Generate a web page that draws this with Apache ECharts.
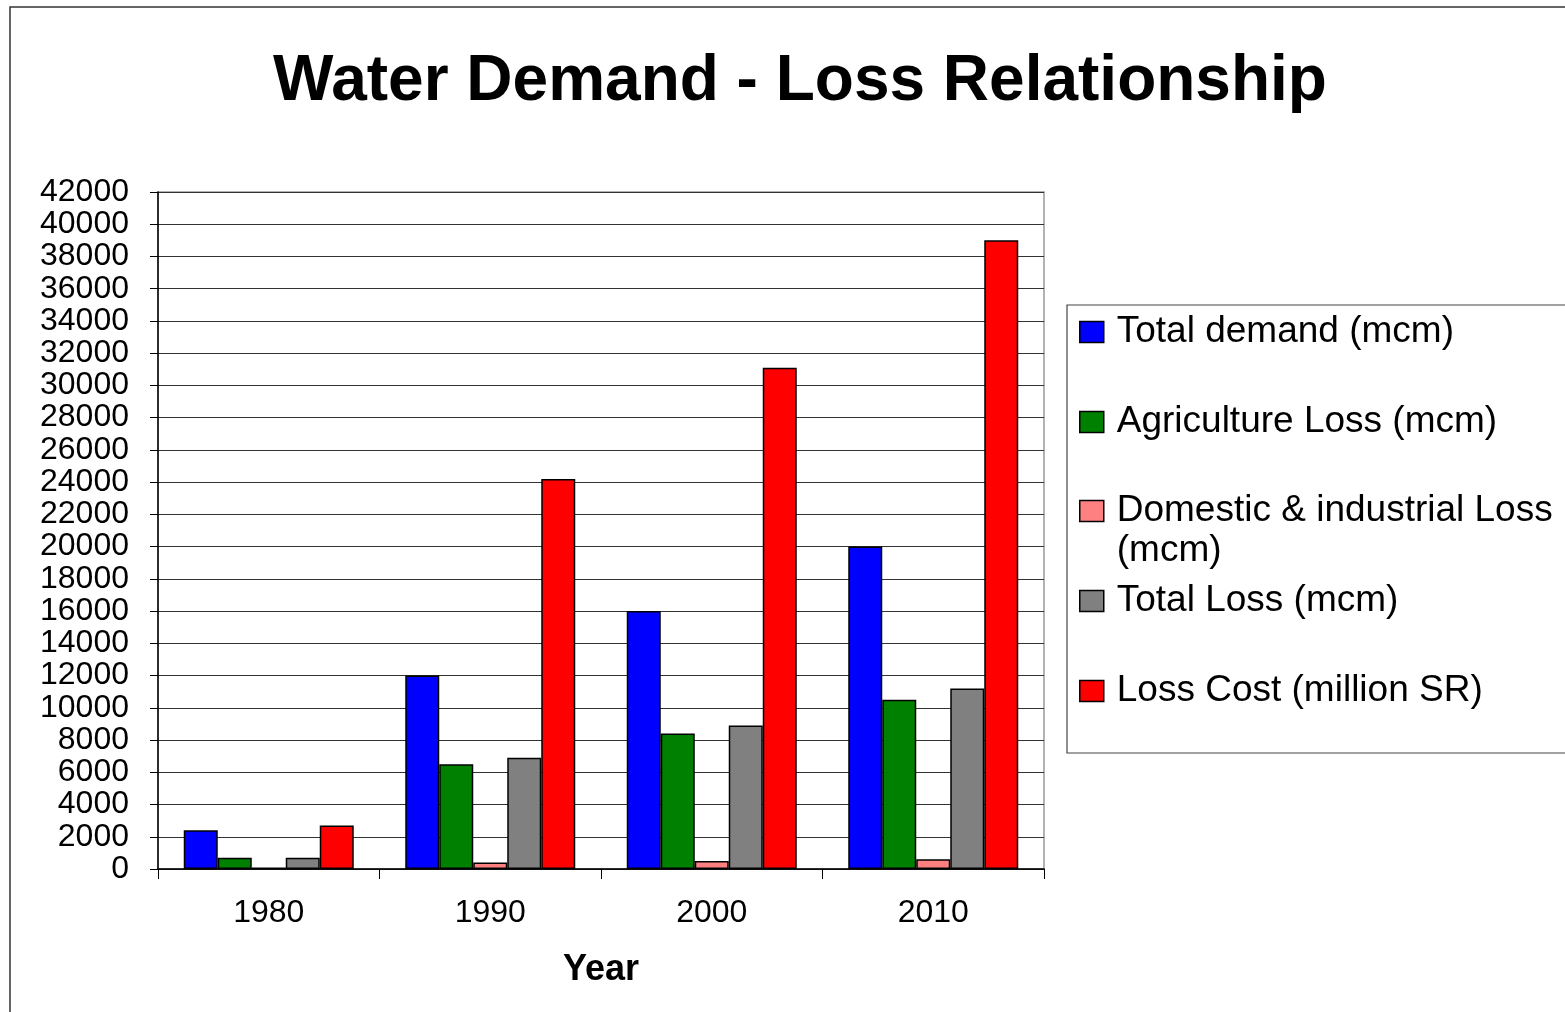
<!DOCTYPE html>
<html>
<head>
<meta charset="utf-8">
<script src="https://cdn.jsdelivr.net/npm/echarts@6/dist/echarts.min.js"></script>
<style>
  html, body { margin: 0; padding: 0; background: #fff; }
  #chart { width: 1565px; height: 1012px; }
</style>
</head>
<body>
<div id="chart"></div>
<script>
// data
var years = ['1980', '1990', '2000', '2010']
var totalDemand = [2400, 12000, 16000, 20000]
var agricultureLoss = [700, 6500, 8400, 10500]
var domesticLoss = [100, 400, 500, 600]
var totalLoss = [700, 6900, 8900, 11200]
var lossCost = [2700, 24200, 31100, 39000]

var names = [
  'Total demand (mcm)',
  'Agriculture Loss (mcm)',
  'Domestic & industrial Loss (mcm)',
  'Total Loss (mcm)',
  'Loss Cost (million SR)'
]
var colors = ['#0000ff', '#008000', '#ff8080', '#808080', '#ff0000']
var values = [totalDemand, agricultureLoss, domesticLoss, totalLoss, lossCost]

var font = 'Liberation Sans, Arial, sans-serif'
var legendTops = [312, 402, 451, 581, 671]

var chart = echarts.init(document.getElementById('chart'))

// one legend per entry so the wrapped one keeps the same spacing
var legends = names.map(function (name, i) {
  var multi = i === 2
  return {
    orient: 'vertical',
    left: 1079,
    top: legendTops[i],
    padding: 0,
    itemWidth: 24,
    itemHeight: 21,
    icon: 'rect',
    selectedMode: false,
    data: [{ name: name, itemStyle: { borderColor: '#000', borderWidth: 1.5 } }],
    formatter: function (n) {
      // blank first line keeps the icon next to the first text line
      return multi ? ' \nDomestic & industrial Loss\n(mcm)' : n
    },
    textStyle: {
      fontFamily: font,
      fontSize: 37,
      color: '#000',
      lineHeight: 40,
      padding: [0, 0, 0, 8]
    }
  }
})

chart.setOption({
  animation: false,
  backgroundColor: '#fff',
  title: {
    text: 'Water Demand - Loss Relationship',
    left: 795,
    textAlign: 'center',
    top: 45,
    textStyle: {
      fontFamily: font,
      fontSize: 64,
      fontWeight: 'bold',
      color: '#000'
    }
  },
  graphic: [
    {
      type: 'rect',
      shape: { x: 10, y: 7, width: 1600, height: 1100 },
      style: { fill: 'none', stroke: '#333', lineWidth: 1.5 },
      silent: true
    },
    {
      type: 'rect',
      shape: { x: 1067, y: 305, width: 600, height: 448 },
      style: { fill: 'none', stroke: '#444', lineWidth: 1.2 },
      silent: true
    }
  ],
  legend: legends,
  grid: {
    left: 158,
    right: 521,
    top: 192,
    bottom: 143,
    show: true,
    borderColor: '#999',
    borderWidth: 1.5
  },
  xAxis: {
    type: 'category',
    data: years,
    name: 'Year',
    nameLocation: 'middle',
    nameGap: 83,
    nameTextStyle: {
      fontFamily: font,
      fontSize: 36,
      fontWeight: 'bold',
      color: '#000'
    },
    axisLine: { lineStyle: { color: '#000', width: 1.5 } },
    axisTick: { show: true, length: 10, lineStyle: { color: '#000' } },
    axisLabel: {
      fontFamily: font,
      fontSize: 32,
      color: '#000',
      margin: 28
    }
  },
  yAxis: {
    type: 'value',
    min: 0,
    max: 42000,
    interval: 2000,
    axisLine: { show: true, lineStyle: { color: '#000', width: 1.5 } },
    axisTick: { show: true, length: 8, lineStyle: { color: '#000' } },
    axisLabel: {
      fontFamily: font,
      fontSize: 32,
      color: '#000',
      margin: 29,
      showMinLabel: true,
      showMaxLabel: true,
      hideOverlap: false,
      formatter: function (v) { return String(v) }
    },
    splitLine: { lineStyle: { color: '#333', width: 1 } }
  },
  series: names.map(function (name, i) {
    return {
      name: name,
      type: 'bar',
      data: values[i],
      barWidth: 34,
      barGap: '0%',
      itemStyle: {
        color: colors[i],
        borderColor: '#000',
        borderWidth: 1.5
      }
    }
  })
})
</script>
</body>
</html>
